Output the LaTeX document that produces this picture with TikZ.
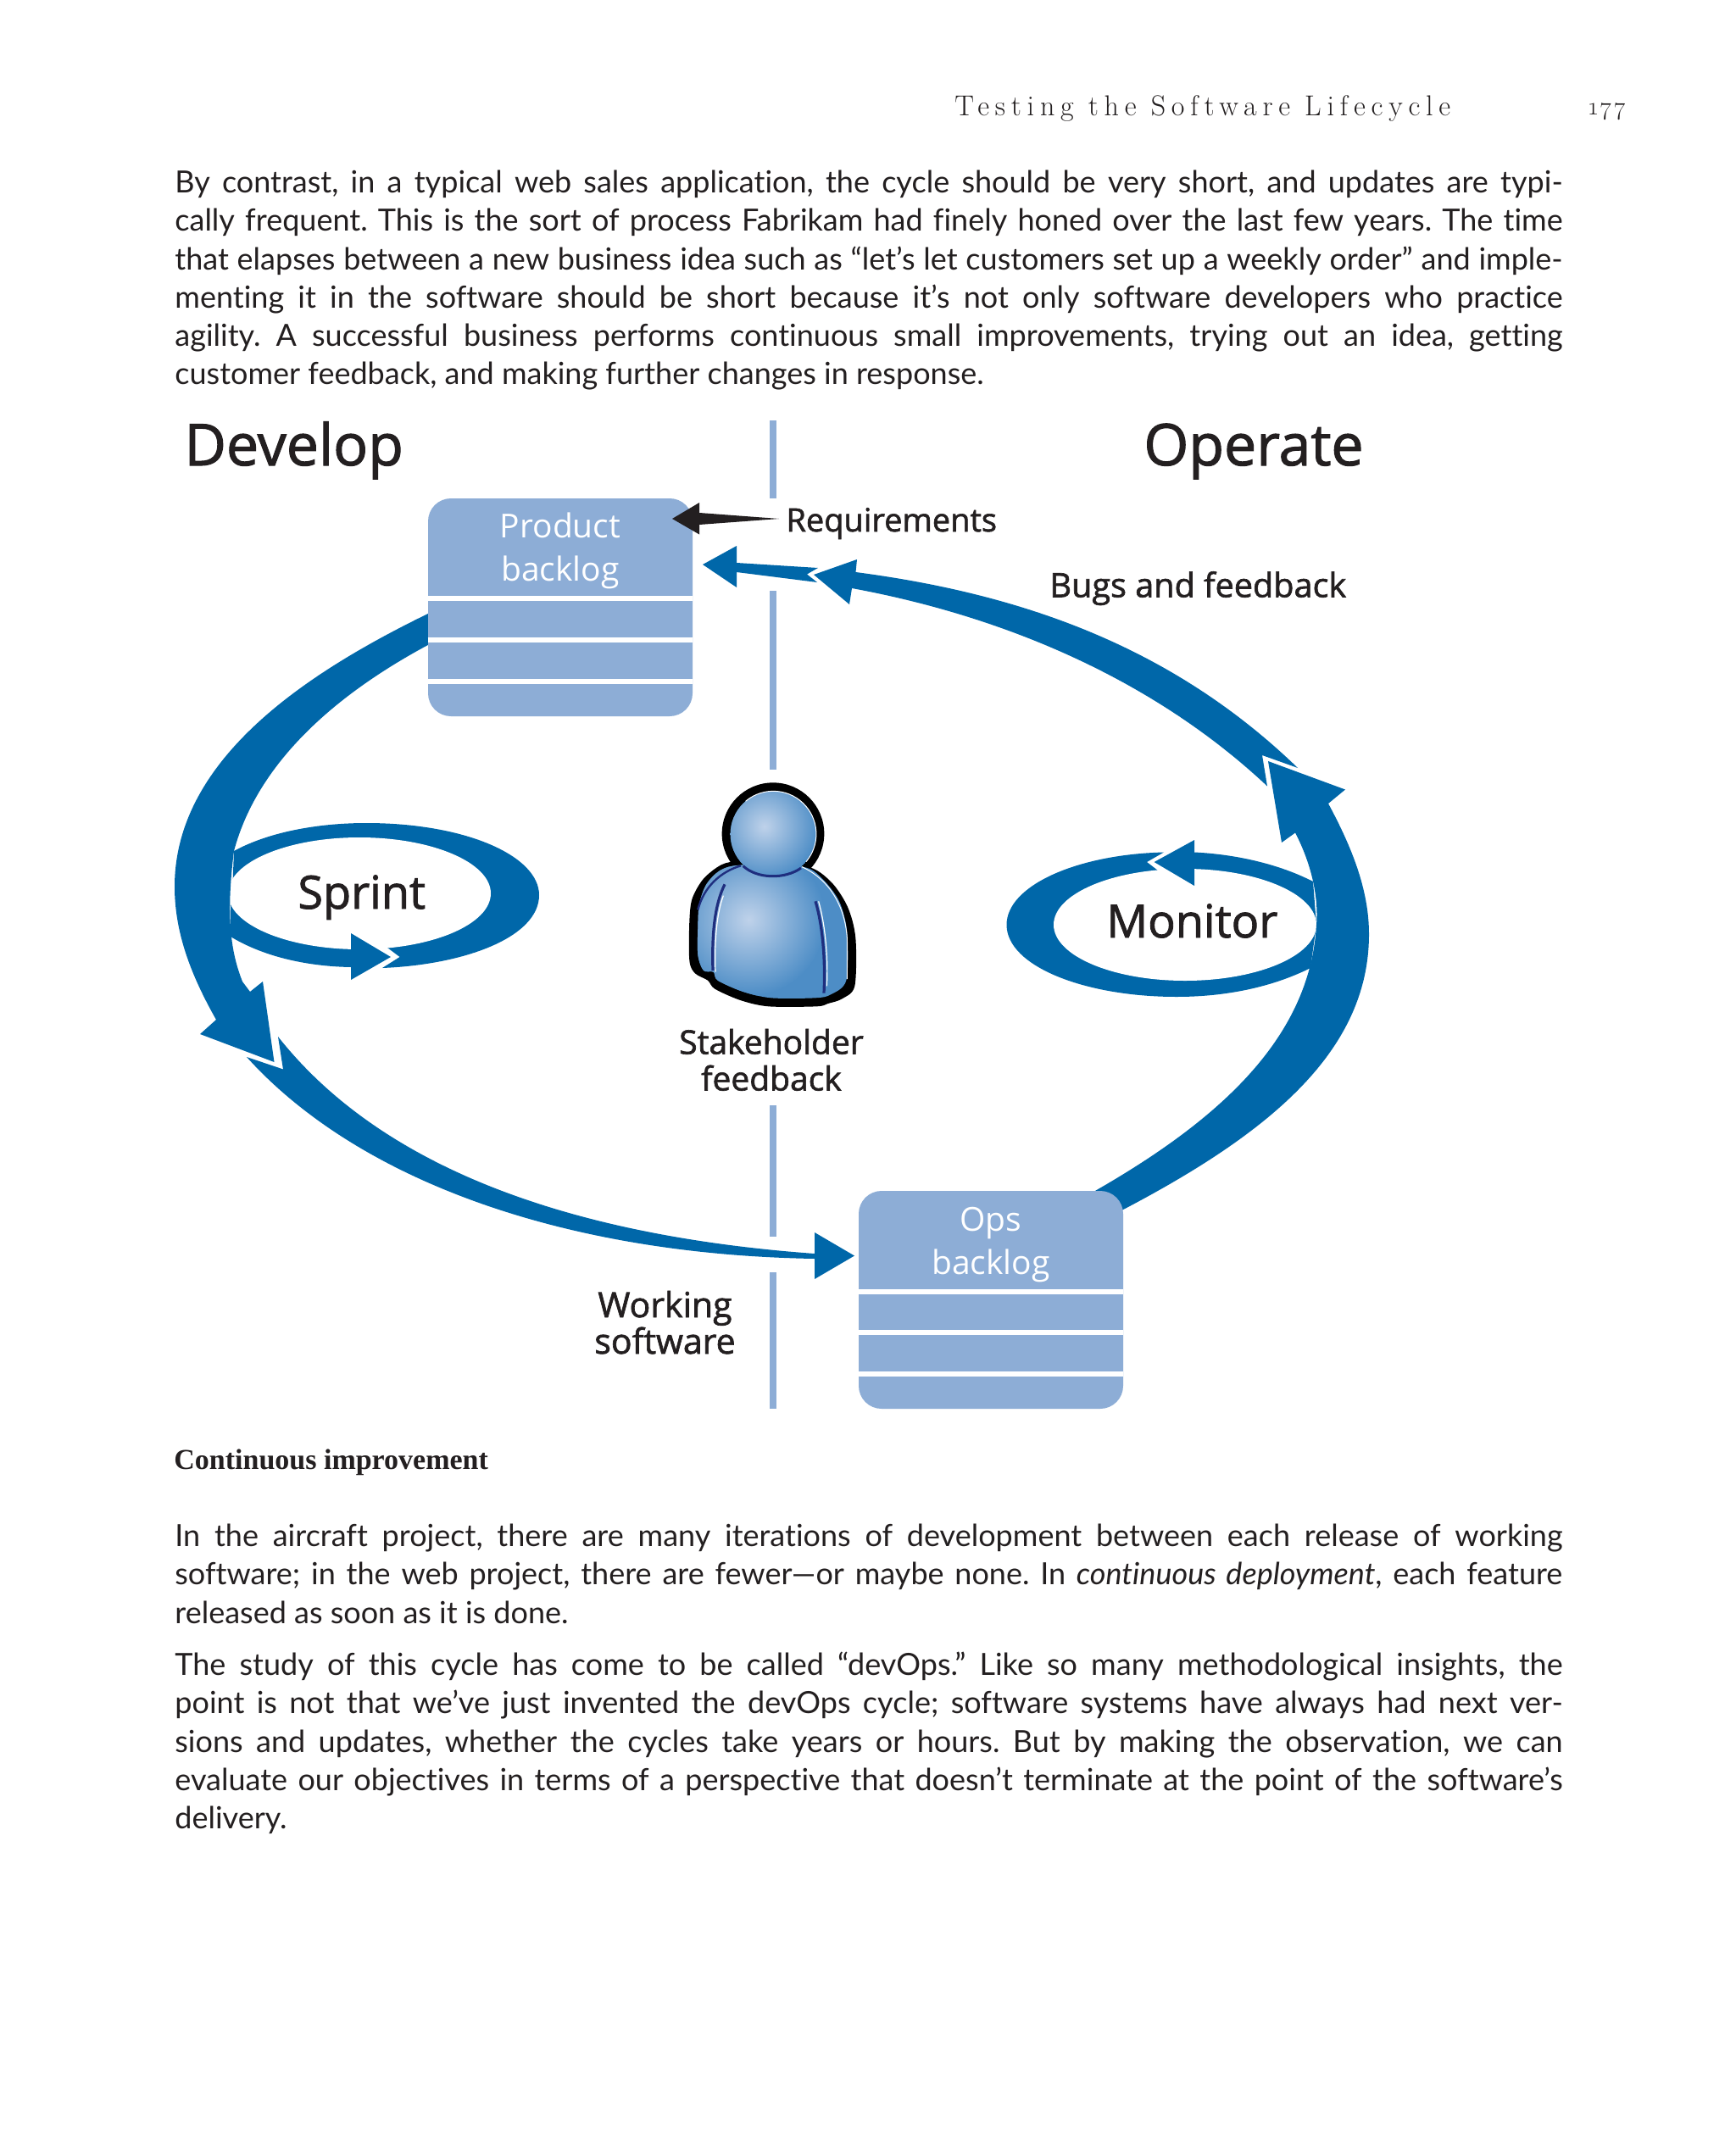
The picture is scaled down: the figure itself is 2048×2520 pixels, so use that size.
\documentclass[tikz,border=0pt]{standalone}
\usepackage{fontspec}
\newfontfamily\bodyfont[Ligatures=NoCommon]{Lato}
\newfontfamily\diagfont{Open Sans}
\newfontfamily\diagboldfont[FakeBold=1.6]{Open Sans}
\newfontfamily\captionfont{Liberation Serif}
\newfontfamily\headfont[LetterSpace=20]{Latin Modern Roman}
\newfontfamily\numfont[LetterSpace=9,Numbers=OldStyle]{Latin Modern Roman}
\definecolor{flowblue}{HTML}{0067A9}
\definecolor{boxblue}{HTML}{8DADD6}
\definecolor{inktext}{HTML}{231F20}
\definecolor{skinlight}{HTML}{BFD2EA}
\definecolor{skinblue}{HTML}{4D8DC6}
\definecolor{seamblue}{HTML}{1F2E7E}
\tikzset{
    flow/.style={fill=flowblue},
    vsep/.style={boxblue, line width=4pt},
    backlogbox/.style={fill=boxblue, rounded corners=13.5pt, minimum width=156pt, minimum height=#1, inner sep=0pt},
    boxrule/.style={white, line width=2.6pt},
    boxtext/.style={white, align=center, inner sep=0pt, font=\diagfont\fontsize{19.5}{25.5}\selectfont},
    sidetitle/.style={anchor=base west, inner sep=0pt, inktext, font=\diagboldfont\fontsize{34}{36}\selectfont},
    looptitle/.style={anchor=base west, inner sep=0pt, inktext, font=\diagboldfont\fontsize{27}{30}\selectfont},
    flowtext/.style={anchor=base west, inner sep=0pt, inktext, font=\diagboldfont\fontsize{#1}{21.5}\selectfont},
    parablock/.style={anchor=north west, inner sep=0pt, text width=818.5pt, align=justify, inktext, font=\bodyfont\fontsize{18}{22.65}\selectfont\frenchspacing},
}

\begin{document}
\begin{tikzpicture}[x=0.5pt, y=-0.5pt]
    \useasboundingbox (0,0) rectangle (2048,2520);
    \fill[white] (0,0) rectangle (2048,2520);

    % page running head and text
    \node[anchor=base west, inner sep=0pt, inktext, font=\headfont\fontsize{17}{18}\selectfont] (runhead) at (1126,137) {\textsc{Testing the Software Lifecycle}};
    \node[anchor=base west, inner sep=0pt, inktext, font=\numfont\fontsize{14.6}{16}\selectfont] (pagenum) at (1874,136) {177};

    \node[parablock] (paraone) at (206,200.5) {By contrast, in a typical web sales application, the cycle should be very short, and updates are typi-\linebreak
    cally frequent. This is the sort of process Fabrikam had finely honed over the last few years. The time\linebreak
    that elapses between a new business idea such as “let’s let customers set up a weekly order” and imple-\linebreak
    menting it in the software should be short because it’s not only software developers who practice\linebreak
    agility. A successful business performs continuous small improvements, trying out an idea, getting\linebreak
    customer feedback, and making further changes in response.};

    \node[anchor=base west, inner sep=0pt, inktext, font=\captionfont\bfseries\fontsize{17}{20}\selectfont] (figcaption) at (205,1733) {Continuous improvement};

    \node[parablock] (paratwo) at (206,1797.5) {In the aircraft project, there are many iterations of development between each release of working\linebreak
    software; in the web project, there are fewer—or maybe none. In {\itshape continuous deployment}, each feature\linebreak
    released as soon as it is done.};

    \node[parablock] (parathree) at (206,1948.5) {The study of this cycle has come to be called “devOps.” Like so many methodological insights, the\linebreak
    point is not that we’ve just invented the devOps cycle; software systems have always had next ver-\linebreak
    sions and updates, whether the cycles take years or hours. But by making the observation, we can\linebreak
    evaluate our objectives in terms of a perspective that doesn’t terminate at the point of the software’s\linebreak
    delivery.};

    % divider between the two sides
    \draw[vsep] (912,496) -- (912,588);
    \draw[vsep] (912,697) -- (912,908);
    \draw[vsep] (912,1304) -- (912,1459);
    \draw[vsep] (912,1501) -- (912,1662);

    % sprint loop
    \fill[flow] (276,1004) .. controls (320,980) and (380,971) .. (432,971) .. controls (550,971) and (636,1010) .. (636,1056) .. controls (636,1105) and (550,1138) .. (451,1142) -- (471.6,1129) -- (457,1118) -- (272,1105) -- cycle;
    \fill[flow] (272,1060) -- (272,1105) .. controls (310,1128) and (360,1140) .. (414,1141) -- (414,1110) -- cycle;
    \fill[white] (424,1054) ellipse (155 and 66);
    \fill[flow] (414,1101) -- (461,1129) -- (414,1156) -- cycle;

    % monitor loop
    \fill[flow] (1373,1005.5) .. controls (1270,1008) and (1187.5,1045) .. (1187.5,1091) .. controls (1187.5,1140) and (1280,1176) .. (1388,1176) .. controls (1445,1176) and (1500,1165) .. (1546,1142) -- (1553,1091) -- (1366,1027) -- (1353,1017) -- cycle;
    \fill[flow] (1549,1040) .. controls (1510,1020) and (1460,1008) .. (1409,1005.5) -- (1409,1030) -- (1553,1091) -- cycle;
    \fill[white] (1398,1091) ellipse (155 and 66);
    \fill[flow] (1409,991) -- (1361.6,1017) -- (1409,1045) -- cycle;

    % develop arc and working software arc
    \fill[flow] (530,712) .. controls (385,780) and (206,885) .. (206,1046) .. controls (206,1100) and (225,1150) .. (255,1203) -- (236,1220) -- (323.5,1253) -- (310,1158) -- (295,1170) -- (286,1158) .. controls (275,1130) and (265,1090) .. (276,1004) .. controls (305,895) and (405,810) .. (530,748) -- cycle;
    \fill[flow] (328,1223) .. controls (460,1390) and (700,1460) .. (961,1479) -- (961,1454) -- (1008,1481.5) -- (961,1509) -- (961,1485) .. controls (660,1480) and (420,1390) .. (291,1247) -- (334,1261.5) -- cycle;

    % operate arc and feedback arc
    \fill[flow] (1290,1445) .. controls (1480,1350) and (1615,1250) .. (1615,1102) .. controls (1615,1050) and (1595,1000) .. (1567,948) -- (1587,931.5) -- (1496,898) -- (1512,994) -- (1528,982.5) .. controls (1545,1015) and (1556,1055) .. (1553,1091) .. controls (1545,1230) and (1430,1330) .. (1265,1420) -- cycle;
    \fill[flow] (1531,906) .. controls (1380,760) and (1200,700) .. (1009.5,675) -- (1011,660) -- (960,678) -- (1002,713) -- (1005,694) .. controls (1200,730) and (1370,810) .. (1495,927.5) -- (1489,891) -- cycle;
    \fill[flow] (829,666) -- (869,644) -- (869,664) -- (965,670) -- (952,677.5) -- (964,687) -- (869,675) -- (869,693) -- cycle;

    % backlogs
    \node[backlogbox=128.5pt] (prodbox) at (661,716.5) {};
    \foreach \y in {706,755,804}
        \draw[boxrule] (prodbox.west |- 0,\y) -- (prodbox.east |- 0,\y);
    \node[boxtext] (prodtext) at (661,650) {Product\\backlog};

    \node[backlogbox=128.5pt] (opsbox) at (1169,1533.5) {};
    \foreach \y in {1524,1572,1621}
        \draw[boxrule] (opsbox.west |- 0,\y) -- (opsbox.east |- 0,\y);
    \node[boxtext] (opstext) at (1169,1469) {Ops\\backlog};

    % requirements arrow
    \fill[inktext] (793,612) -- (825,593) -- (825,605) -- (919,612) -- (825,619) -- (825,630.5) -- cycle;

    % labels
    \node[sidetitle] (develop) at (217,549) {Develop};
    \node[sidetitle] (operate) at (1349,549) {Operate};
    \node[looptitle] (sprint) at (351,1072) {Sprint};
    \node[looptitle] (monitor) at (1305,1106) {Monitor};
    \node[flowtext=19] (requirements) at (927,627) {Requirements};
    \node[flowtext=19.8] (bugs) at (1238,704.5) {Bugs and feedback};
    \node[flowtext=19.5, anchor=base, align=center] (stakeholder) at (910,1286.5) {Stakeholder\\feedback};
    \node[flowtext=20.5, anchor=base, align=center] (working) at (784.5,1597) {Working\\software};

    % stakeholder figure
    \begin{scope}[shift={(780,900)}, scale=1/3]
        \fill[black] plot[smooth cycle] coordinates {(285,350) (215,360) (150,410) (110,480) (100,560) (100,700) (120,745) (165,770) (190,800) (280,840) (380,862) (550,862) (590,852) (640,835) (685,790) (688,620) (660,510) (600,420) (510,365)};
        \fill[black] (396,251) circle (181);
        \begin{scope}
            \clip plot[smooth cycle] coordinates {(285,362) (210,380) (160,430) (135,500) (130,580) (130,680) (150,735) (185,740) (200,770) (290,810) (390,832) (545,832) (600,820) (655,770) (658,600) (630,490) (570,410) (500,368)};
            \fill[skinblue] (100,340) rectangle (690,860);
            \shade[inner color=skinlight, outer color=skinblue] (310,555) circle (270);
        \end{scope}
        \draw[white, line width=0.5pt] (498,368) .. controls (590,410) and (650,500) .. (658,620) -- (658,765);
        \begin{scope}
            \clip (397,252) circle (152);
            \fill[skinblue] (397,252) circle (152);
            \shade[inner color=skinlight, outer color=skinblue] (365,225) circle (190);
        \end{scope}
        \draw[white, line width=0.5pt] (299,135.6) arc (-130:40:152);
        \draw[seamblue, line width=1.5pt] (290,365) .. controls (340,412) and (440,412) .. (495,372);
        \draw[seamblue, line width=1.2pt] (282,364) .. controls (210,385) and (150,440) .. (130,520);
        \draw[seamblue, line width=1.6pt] (225,430) .. controls (195,490) and (178,580) .. (183,735);
        \draw[white, line width=0.6pt] (220,470) .. controls (198,530) and (188,620) .. (192,740);
        \draw[seamblue, line width=1.6pt] (546,490) .. controls (570,570) and (582,690) .. (576,815);
        \draw[white, line width=0.6pt] (557,490) .. controls (580,570) and (592,690) .. (586,790);
    \end{scope}
\end{tikzpicture}
\end{document}
